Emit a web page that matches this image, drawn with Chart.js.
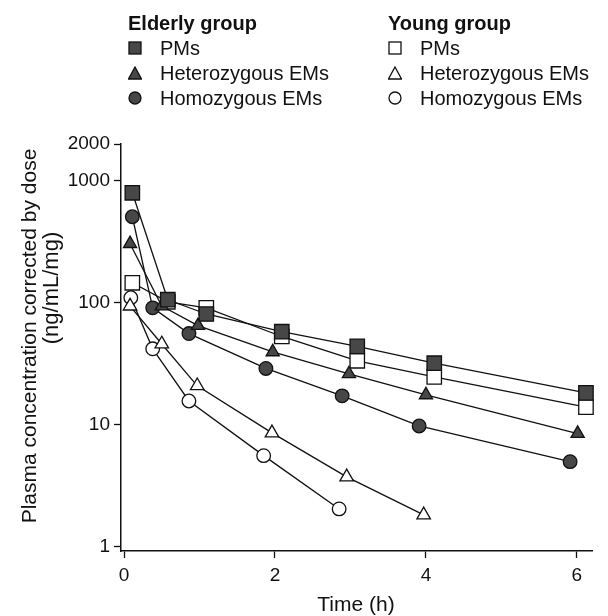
<!DOCTYPE html>
<html>
<head>
<meta charset="utf-8">
<script src="https://cdn.jsdelivr.net/npm/chart.js@4.4.1/dist/chart.umd.min.js"></script>
<style>
  html, body { margin: 0; padding: 0; background: #fff; }
  #wrap { position: relative; width: 608px; height: 616px; }
  canvas { position: absolute; left: 0; top: 0; }
  .leg { position: absolute; font-family: "Liberation Sans", Arial, Helvetica, sans-serif; font-size: 20px; color: #111; line-height: 1; white-space: nowrap; }
  .hd { font-weight: bold; }
  .mk { position: absolute; }
</style>
</head>
<body>
<div id="wrap">
  <canvas id="c" width="608" height="616"></canvas>
  <div id="legend"></div>
</div>
<script>
// ---- Data ----
const xTicks = [0, 2, 4, 6];
const yTicks = [1, 10, 100, 1000, 2000];

const elderlyPMsTime = [0.11, 0.58, 1.09, 2.09, 3.09, 4.11, 6.12];
const elderlyPMsConc = [797, 106, 81, 58, 44, 32, 18.3];
const elderlyHetTime = [0.08, 0.50, 0.98, 1.97, 2.98, 4.00, 6.01];
const elderlyHetConc = [305, 94, 65, 39.6, 26.2, 17.6, 8.5];
const elderlyHomTime = [0.11, 0.38, 0.86, 1.88, 2.89, 3.91, 5.91];
const elderlyHomConc = [507, 91, 56, 29, 17.3, 9.8, 5.0];

const youngPMsTime = [0.11, 0.58, 1.09, 2.09, 3.09, 4.11, 6.12];
const youngPMsConc = [146, 102, 91, 53, 33.5, 24.7, 14.0];
const youngHetTime = [0.08, 0.50, 0.97, 1.96, 2.95, 3.97];
const youngHetConc = [94, 46, 20.9, 8.6, 3.75, 1.83];
const youngHomTime = [0.09, 0.38, 0.86, 1.85, 2.85];
const youngHomConc = [110, 42, 15.7, 5.6, 2.05];

const seriesLabels = ['PMs', 'Heterozygous EMs', 'Homozygous EMs'];
const groupLabels = ['Elderly group', 'Young group'];

// ---- Build datasets ----
const FILL = '#474747';
function pts(t, c) { return t.map((x, i) => ({ x: x, y: c[i] })); }
function ds(label, t, c, style, r, filled, order) {
  return {
    label: label,
    data: pts(t, c),
    showLine: true,
    borderColor: '#111',
    borderWidth: 1.3,
    pointStyle: style,
    pointRadius: r,
    pointBorderWidth: 1.3,
    pointBorderColor: '#111',
    pointBackgroundColor: filled ? FILL : '#fff',
    clip: false,
    order: order
  };
}

const datasets = [
  ds(groupLabels[0] + ' ' + seriesLabels[0], elderlyPMsTime, elderlyPMsConc, 'rect', 10.2, true, 0),
  ds(groupLabels[0] + ' ' + seriesLabels[1], elderlyHetTime, elderlyHetConc, 'triangle', 7.6, true, 0),
  ds(groupLabels[0] + ' ' + seriesLabels[2], elderlyHomTime, elderlyHomConc, 'circle', 6.8, true, 0),
  ds(groupLabels[1] + ' ' + seriesLabels[0], youngPMsTime, youngPMsConc, 'rect', 10.2, false, 1),
  ds(groupLabels[1] + ' ' + seriesLabels[1], youngHetTime, youngHetConc, 'triangle', 7.8, false, 1),
  ds(groupLabels[1] + ' ' + seriesLabels[2], youngHomTime, youngHomConc, 'circle', 6.8, false, 1)
];

const FONT = '"Liberation Sans", Arial, Helvetica, sans-serif';

const titlePlugin = {
  id: 'axisTitles',
  afterDraw(chart) {
    const ctx = chart.ctx;
    ctx.save();
    ctx.fillStyle = '#111';
    ctx.textAlign = 'center';
    ctx.textBaseline = 'middle';
    ctx.font = '21px ' + FONT;
    ctx.fillText('Time (h)', 356, 605);
    ctx.translate(30, 336);
    ctx.rotate(-Math.PI / 2);
    ctx.fillText('Plasma concentration corrected by dose', 0, 0);
    ctx.restore();
    ctx.save();
    ctx.fillStyle = '#111';
    ctx.textAlign = 'center';
    ctx.textBaseline = 'middle';
    ctx.font = '22px ' + FONT;
    ctx.translate(52, 288);
    ctx.rotate(-Math.PI / 2);
    ctx.fillText('(ng/mL/mg)', 0, 0);
    ctx.restore();
  }
};

new Chart(document.getElementById('c'), {
  type: 'scatter',
  data: { datasets: datasets },
  plugins: [titlePlugin],
  options: {
    responsive: false,
    animation: false,
    devicePixelRatio: 1,
    layout: { padding: { top: 144, right: 16, left: 0, bottom: 0 } },
    plugins: { legend: { display: false }, tooltip: { enabled: false } },
    scales: {
      x: {
        type: 'linear',
        min: -0.04,
        max: 6.2,
        afterBuildTicks(s) { s.ticks = xTicks.map(v => ({ value: v })); },
        afterFit(s) { s.height = 65; },
        ticks: { color: '#111', font: { family: FONT, size: 19 }, padding: 6, autoSkip: false, maxRotation: 0, callback: v => String(v) },
        grid: { drawOnChartArea: false, drawTicks: true, tickLength: 7, tickColor: '#111', tickWidth: 1.3 },
        border: { display: true, color: '#111', width: 1.5 }
      },
      y: {
        type: 'logarithmic',
        min: 0.927,
        max: 2000,
        afterBuildTicks(s) { s.ticks = yTicks.map(v => ({ value: v })); },
        afterFit(s) { s.width = 121; },
        ticks: { color: '#111', font: { family: FONT, size: 19 }, padding: 4, autoSkip: false, callback: v => String(v) },
        grid: { drawOnChartArea: false, drawTicks: true, tickLength: 7, tickColor: '#111', tickWidth: 1.3 },
        border: { display: true, color: '#111', width: 1.5 }
      }
    }
  }
});

// ---- HTML legend ----
function marker(style, filled) {
  const f = filled ? FILL : '#fff';
  const s = 'stroke="#111" stroke-width="1.3"';
  let shape = '';
  if (style === 'rect') shape = `<rect x="1" y="1" width="12" height="12" fill="${f}" ${s}/>`;
  if (style === 'triangle') shape = `<polygon points="7,1 13.5,13 0.5,13" fill="${f}" ${s}/>`;
  if (style === 'circle') shape = `<circle cx="7" cy="7" r="6" fill="${f}" ${s}/>`;
  return `<svg width="14" height="14" viewBox="0 0 14 14">${shape}</svg>`;
}
const styles = ['rect', 'triangle', 'circle'];
const cols = [{ hx: 128, mx: 128, tx: 160, filled: true }, { hx: 388, mx: 388, tx: 420, filled: false }];
const rowY = [48, 73, 98];
const leg = document.getElementById('legend');
let html = '';
cols.forEach((c, gi) => {
  html += `<div class="leg hd" style="left:${c.hx}px;top:${23 - 10}px">${groupLabels[gi]}</div>`;
  seriesLabels.forEach((lab, i) => {
    html += `<div class="mk" style="left:${c.mx}px;top:${rowY[i] - 7}px">${marker(styles[i], c.filled)}</div>`;
    html += `<div class="leg" style="left:${c.tx}px;top:${rowY[i] - 10}px">${lab}</div>`;
  });
});
leg.innerHTML = html;
</script>
</body>
</html>
